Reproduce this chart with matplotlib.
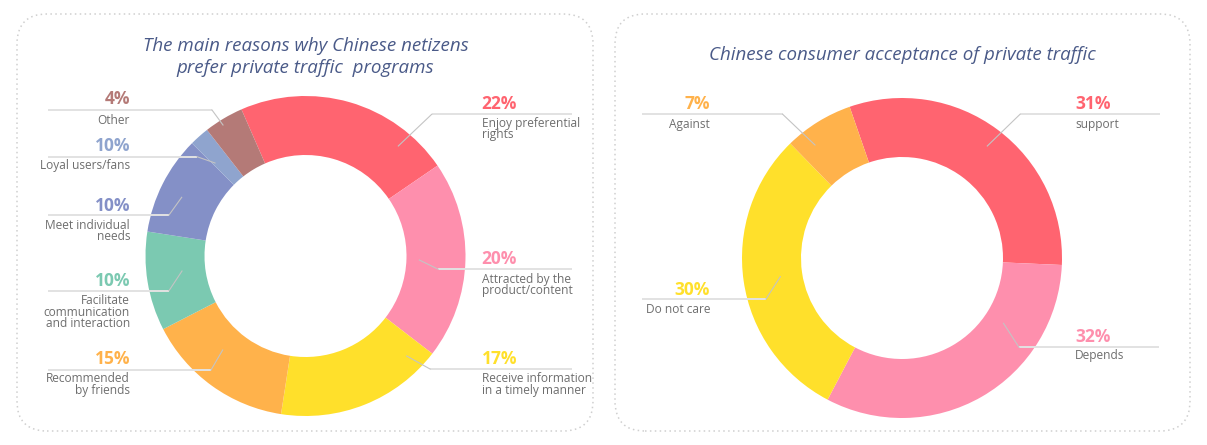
import matplotlib
matplotlib.use("Agg")
import matplotlib.pyplot as plt
from matplotlib.patches import FancyBboxPatch

# ---------------- data ----------------
left_title = "The main reasons why Chinese netizens\nprefer private traffic  programs"
left_categories = ["Enjoy preferential\nrights", "Attracted by the\nproduct/content",
                   "Receive information\nin a timely manner", "Recommended\nby friends",
                   "Facilitate\ncommunication\nand interaction", "Meet individual\nneeds",
                   "Loyal users/fans", "Other"]
left_pct_labels = ["22%", "20%", "17%", "15%", "10%", "10%", "10%", "4%"]
left_shares = [22, 20, 17, 15, 10, 10, 2, 4]   # wedge sizes as drawn
left_colors = ["#FF6470", "#FE8FAD", "#FFE02B", "#FFB24B", "#7BC9B1", "#8490C7", "#8FA4CE", "#B47A77"]

right_title = "Chinese consumer acceptance of private traffic"
right_categories = ["support", "Depends", "Do not care", "Against"]
right_pct_labels = ["31%", "32%", "30%", "7%"]
right_shares = [31, 32, 30, 7]
right_colors = ["#FF6470", "#FE8FAD", "#FFE02B", "#FFB24B"]

# ---------------- layout (pixel coordinates, y from top) ----------------
W, H = 1207, 445
left_center, right_center = (305.5, 256), (902, 258)
R_OUT, RING = 160, 59

# side, text anchor x, pct y, line y, line x-range, leader end point, first text-line y
left_layout = [
    ("R", 481.7, 104, 114.3, (431.7, 571.7), (398.3, 146), 123.5),
    ("R", 481.7, 259, 269.3, (438.3, 571.7), (419.3, 260), 279.3),
    ("R", 481.7, 359, 369.0, (430.0, 571.7), (406.7, 356), 379.0),
    ("L", 130.0, 359, 370.0, (48.0, 211.0), (222.7, 350), 378.7),
    ("L", 130.0, 281.5, 290.7, (48.0, 169.0), (182.0, 271), 301.0),
    ("L", 130.0, 205.7, 215.0, (48.0, 169.0), (181.7, 197.3), 225.5),
    ("L", 130.0, 146.0, 156.7, (48.0, 197.0), (215.0, 163), 166.0),
    ("L", 130.0, 99.5, 110.0, (48.0, 212.0), (223.0, 125), 120.0),
]
right_layout = [
    ("R", 1075.0, 104, 114.3, (1020.0, 1160.0), (987.3, 146), 124.3),
    ("R", 1075.0, 337.0, 347.3, (1019.0, 1159.0), (1003.5, 323.3), 356.0),
    ("L", 710.0, 290.0, 299.0, (641.7, 766.0), (780.3, 276.7), 309.5),
    ("L", 710.0, 104, 114.3, (641.7, 782.7), (815.0, 145), 124.3),
]

FONT = "Open Sans"
TITLE_COLOR = "#4A5A88"
TEXT_COLOR = "#6E6E6E"

fig = plt.figure(figsize=(W / 100, H / 100), dpi=100)
ax = fig.add_axes([0, 0, 1, 1])


def Y(y):
    return H - y


def draw_donut(shares, colors, center, start_cw_from_top):
    ax.pie(shares, colors=colors, startangle=90 - start_cw_from_top, counterclock=False,
           radius=R_OUT, center=(center[0], Y(center[1])),
           wedgeprops=dict(width=RING, edgecolor="none", linewidth=0))


def draw_labels(pcts, cats, colors, layout):
    for pct, cat, col, (side, tx, py, ly, (lx0, lx1), end, ty) in zip(pcts, cats, colors, layout):
        ha = "left" if side == "R" else "right"
        ax.plot([lx0, lx1], [Y(ly), Y(ly)], color="#E2E2E2", lw=1.4, zorder=3,
                solid_capstyle="butt")
        near = lx0 if side == "R" else lx1
        ax.plot([near, end[0]], [Y(ly), Y(end[1])], color="#C4C4C4", lw=0.8, zorder=3)
        ax.text(tx, Y(py), pct, ha=ha, va="center", fontsize=12.5, fontweight="bold",
                color=col, family=FONT, zorder=4)
        for i, line in enumerate(cat.split("\n")):
            ax.text(tx, Y(ty + i * 11.4), line, ha=ha, va="center", fontsize=8.6,
                    color=TEXT_COLOR, family=FONT, zorder=4)


# boxes
for (x0, x1) in [(17, 593), (615, 1190)]:
    ax.add_patch(FancyBboxPatch((x0, Y(431)), x1 - x0, 431 - 14,
                                boxstyle="round,pad=0,rounding_size=30",
                                fill=False, edgecolor="#CFCFCF", lw=1.1,
                                linestyle=(0, (1, 2.2)), zorder=1))

draw_donut(left_shares, left_colors, left_center, 336.4)
draw_donut(right_shares, right_colors, right_center, 340.9)

draw_labels(left_pct_labels, left_categories, left_colors, left_layout)
draw_labels(right_pct_labels, right_categories, right_colors, right_layout)

# titles
t1, t2 = left_title.split("\n")
ax.text(305.5, Y(46), t1, ha="center", va="center", fontsize=13.5, style="italic",
        color=TITLE_COLOR, family=FONT)
ax.text(305.5, Y(68), t2, ha="center", va="center", fontsize=13.5, style="italic",
        color=TITLE_COLOR, family=FONT)
ax.text(902, Y(55), right_title, ha="center", va="center", fontsize=13.5, style="italic",
        color=TITLE_COLOR, family=FONT)

ax.set_xlim(0, W)
ax.set_ylim(0, H)
ax.set_aspect("auto")
ax.axis("off")

fig.savefig("out.png", dpi=100, facecolor="white")
